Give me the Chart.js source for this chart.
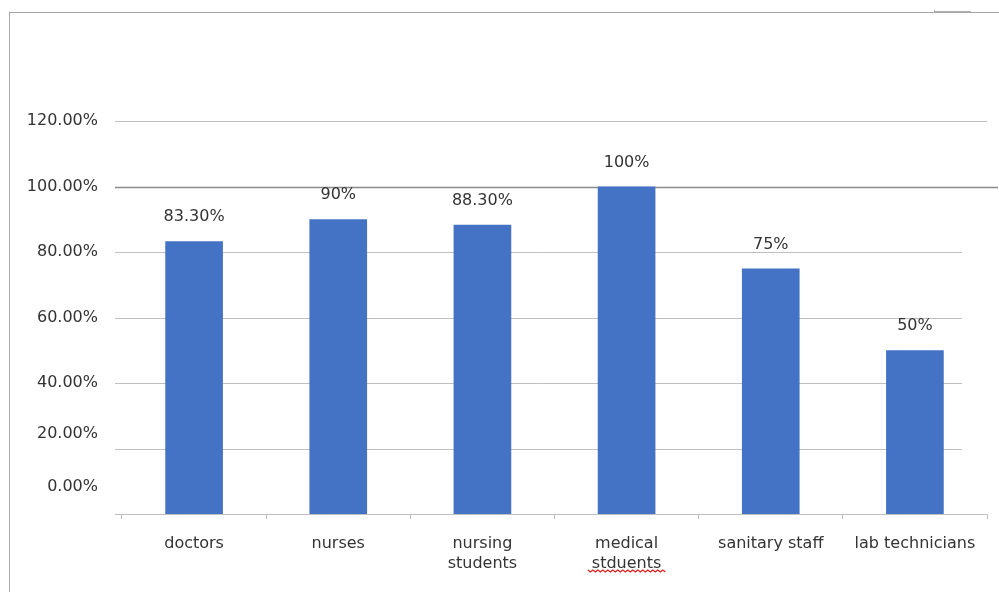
<!DOCTYPE html>
<html lang="en">

<head>
  <meta charset="utf-8">
  <title>Staff Awareness</title>
  <script src="https://cdn.jsdelivr.net/npm/chart.js@4.4.0/dist/chart.umd.min.js"></script>
  <style>
    html, body { margin: 0; padding: 0; background: #fff; }
    #wrap { position: relative; width: 999px; height: 592px; }
    /* page frame round the chart */
    #frame { position: absolute; left: 9px; top: 12px; right: 0; bottom: 0;
      border-left: 1px solid #a6a6a6; border-top: 1px solid #a6a6a6; }
    #mark { position: absolute; left: 934px; top: 10px; width: 36px; height: 1px;
      border-left: 1px solid #b0b0b0; border-bottom: 1px solid #b0b0b0; }
    canvas { position: absolute; left: 0; top: 0; }
  </style>
</head>

<body>
  <div id="wrap">
    <div id="frame"></div>
    <div id="mark"></div>
    <canvas id="myChart" width="999" height="592"></canvas>
  </div>

  <script>
    // categories and values (percent)
    const groups = ['doctors', 'nurses', ['nursing', 'students'], ['medical', 'stduents'], 'sanitary staff', 'lab technicians'];
    const percentages = [83.3, 90, 88.3, 100, 75, 50];
    const valueLabels = ['83.30%', '90%', '88.30%', '100%', '75%', '50%'];

    const textColor = '#333333';
    const fontFamily = '"DejaVu Sans", sans-serif';

    // horizontal rules: the 100% line is darker and runs longer
    const rules = {
      id: 'rules',
      beforeDatasetsDraw(chart) {
        const ctx = chart.ctx;
        const y = chart.scales.y;
        const area = chart.chartArea;
        ctx.save();
        y.ticks.forEach(function (t) {
          const py = Math.round(y.getPixelForValue(t.value)) + 0.5;
          let end = area.right - 25, color = '#bfbfbf', lw = 1;
          if (t.value === 120 || t.value === 0) end = area.right;
          if (t.value === 100) { end = area.right + 11; color = '#8c8c8c'; lw = 1.5; }
          ctx.strokeStyle = color;
          ctx.lineWidth = lw;
          ctx.beginPath();
          ctx.moveTo(area.left - 7, py);
          ctx.lineTo(end, py);
          ctx.stroke();
        });
        ctx.restore();
      }
    };

    // y tick text; the two lowest sit a little above their lines
    const yText = {
      id: 'yText',
      afterDraw(chart) {
        const ctx = chart.ctx;
        const y = chart.scales.y;
        const lift = { 20: 15, 0: 27 };
        ctx.save();
        ctx.font = '16px ' + fontFamily;
        ctx.fillStyle = textColor;
        ctx.textAlign = 'right';
        ctx.textBaseline = 'middle';
        y.ticks.forEach(function (t) {
          const py = y.getPixelForValue(t.value) - (lift[t.value] || 0);
          ctx.fillText(t.value.toFixed(2) + '%', chart.chartArea.left - 24, py);
        });
        ctx.restore();
      }
    };

    // value text above each bar
    const barLabels = {
      id: 'barLabels',
      afterDatasetsDraw(chart) {
        const ctx = chart.ctx;
        const meta = chart.getDatasetMeta(0);
        ctx.save();
        ctx.font = '16px ' + fontFamily;
        ctx.fillStyle = textColor;
        ctx.textAlign = 'center';
        ctx.textBaseline = 'middle';
        meta.data.forEach(function (bar, i) {
          ctx.fillText(valueLabels[i], bar.x, bar.y - 24);
        });
        ctx.restore();
      }
    };

    // red spell-check squiggle under "stduents"
    const squiggle = {
      id: 'squiggle',
      afterDraw(chart) {
        const ctx = chart.ctx;
        const xs = chart.scales.x;
        ctx.save();
        ctx.font = '16px ' + fontFamily;
        const w = ctx.measureText('stduents').width + 8;
        const x0 = xs.getPixelForTick(3) - w / 2;
        const y = chart.chartArea.bottom + 56;
        ctx.strokeStyle = '#e0201c';
        ctx.lineWidth = 1.3;
        ctx.beginPath();
        ctx.moveTo(x0, y);
        for (let i = 1; x0 + i * 2.5 <= x0 + w; i++) {
          ctx.lineTo(x0 + i * 2.5, y + (i % 2 ? 2 : 0));
        }
        ctx.stroke();
        ctx.restore();
      }
    };

    const ctx = document.getElementById('myChart');
    const myChart = new Chart(ctx, {
      type: 'bar',
      data: {
        labels: groups,
        datasets: [{
          data: percentages,
          backgroundColor: '#4472C4',
          borderWidth: 0,
          categoryPercentage: 0.4,
          barPercentage: 1.0
        }]
      },
      options: {
        responsive: false,
        animation: false,
        layout: { padding: { top: 121, right: 12, left: 0, bottom: 0 } },
        plugins: {
          legend: { display: false },
          tooltip: { enabled: false }
        },
        scales: {
          x: {
            afterFit: function (s) { s.height = 78; },
            border: { display: false },
            grid: {
              drawOnChartArea: false,
              drawTicks: true,
              tickLength: 5,
              color: '#bfbfbf'
            },
            ticks: {
              color: textColor,
              padding: 15,
              maxRotation: 0,
              autoSkip: false,
              font: { family: fontFamily, size: 16, lineHeight: 1.25 }
            }
          },
          y: {
            min: 0,
            max: 120,
            afterFit: function (s) { s.width = 122; },
            border: { display: false },
            grid: { display: false },
            ticks: {
              display: false,
              stepSize: 20
            }
          }
        }
      },
      plugins: [rules, yText, barLabels, squiggle]
    });
  </script>
</body>

</html>
